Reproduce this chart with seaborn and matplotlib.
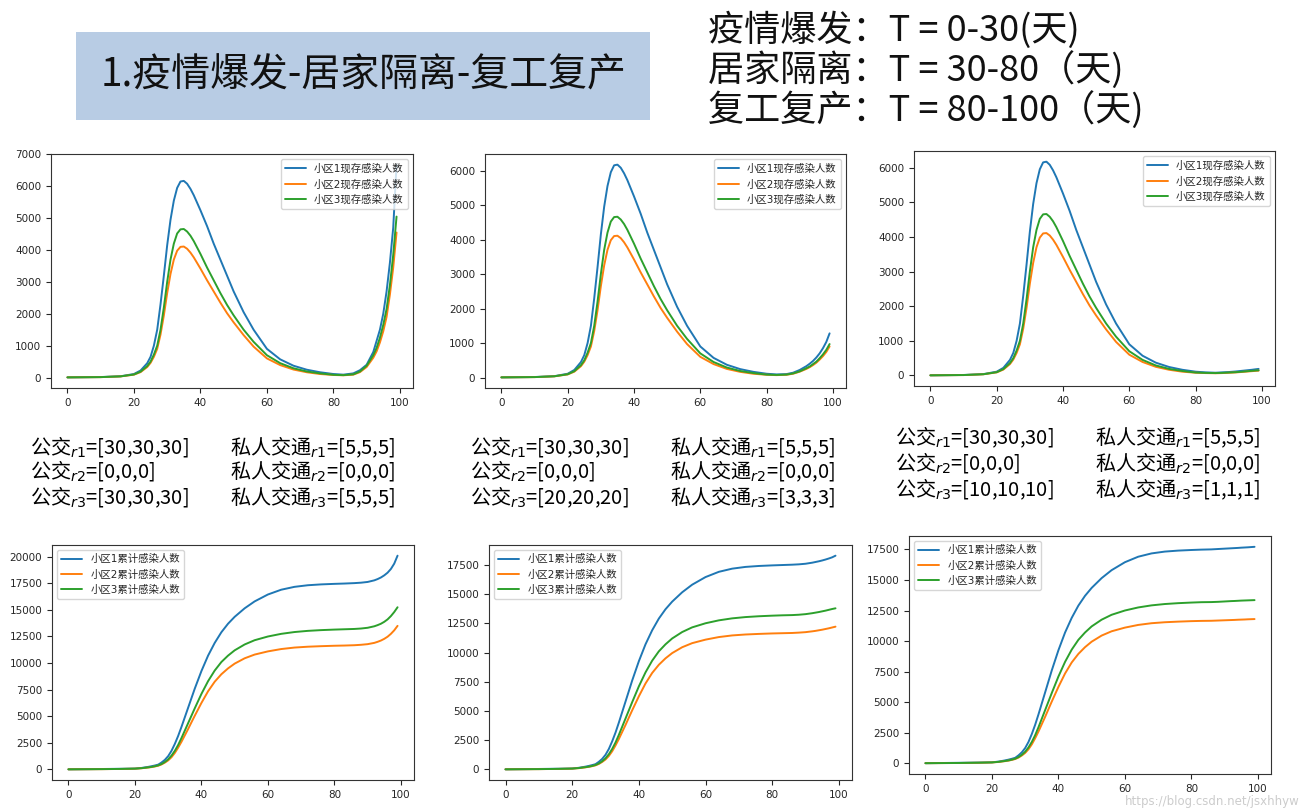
import pandas as pd
import seaborn as sns
import matplotlib.pyplot as plt
from matplotlib.patches import Rectangle
from matplotlib.ticker import MultipleLocator

# days sampled from the curves (shared phase up to day 83, then reopening phase)
days_early = [0, 10, 16, 20, 22, 24, 25, 26, 27, 28, 29, 30, 31, 32, 33, 34, 35, 36, 37, 38,
              40, 42, 44, 46, 48, 50, 53, 56, 60, 64, 68, 72, 76, 80, 83]
days_late = [86, 88, 90, 92, 93, 94, 95, 96, 97, 98, 99]

# current infections, days 0-83 (same for all three scenarios)
cur1_early = [5, 15, 40, 110, 220, 450, 650, 1000, 1500, 2300, 3200, 4150, 4950, 5550, 5950,
              6150, 6170, 6080, 5920, 5720, 5250, 4750, 4200, 3700, 3200, 2700, 2050, 1500,
              900, 570, 370, 245, 165, 110, 90]
cur2_early = [5, 12, 35, 90, 170, 330, 460, 650, 900, 1350, 1950, 2650, 3250, 3700, 3980,
              4100, 4110, 4040, 3920, 3770, 3420, 3050, 2700, 2350, 2020, 1730, 1330, 970,
              600, 390, 250, 165, 110, 80, 70]
cur3_early = [5, 13, 37, 95, 185, 360, 500, 720, 1000, 1500, 2200, 3000, 3700, 4200, 4520,
              4650, 4660, 4580, 4450, 4280, 3880, 3450, 3050, 2650, 2280, 1950, 1500, 1120,
              700, 450, 290, 190, 130, 85, 75]

# current infections after reopening, scenario a / b / c
cur1_late_a = [130, 230, 400, 800, 1150, 1500, 2000, 2700, 3600, 4700, 6680]
cur2_late_a = [90, 170, 330, 620, 820, 1100, 1450, 1900, 2600, 3450, 4550]
cur3_late_a = [100, 190, 370, 700, 930, 1250, 1650, 2150, 2900, 3850, 5050]
cur1_late_b = [100, 140, 220, 330, 400, 480, 580, 700, 850, 1030, 1280]
cur2_late_b = [80, 110, 170, 250, 300, 360, 430, 520, 620, 740, 900]
cur3_late_b = [85, 120, 180, 270, 320, 390, 460, 560, 670, 800, 970]
cur1_late_c = [80, 90, 100, 115, 125, 135, 145, 155, 165, 178, 190]
cur2_late_c = [65, 70, 78, 88, 95, 102, 110, 118, 125, 133, 140]
cur3_late_c = [70, 76, 85, 95, 102, 110, 118, 127, 135, 143, 150]

# cumulative infections, days 0-83
cum1_early = [10, 40, 60, 80, 140, 240, 300, 370, 450, 650, 900, 1250, 1750, 2400, 3150,
              4000, 4900, 5800, 6700, 7600, 9250, 10700, 11900, 12900, 13700, 14350, 15150,
              15800, 16450, 16900, 17170, 17320, 17400, 17450, 17480]
cum2_early = [10, 25, 45, 70, 110, 180, 220, 280, 350, 470, 640, 850, 1150, 1550, 2050,
              2600, 3200, 3800, 4430, 5050, 6250, 7350, 8250, 8950, 9500, 9950, 10450,
              10800, 11100, 11320, 11460, 11540, 11590, 11630, 11650]
cum3_early = [10, 27, 50, 75, 120, 195, 240, 300, 380, 510, 700, 950, 1300, 1750, 2300,
              2950, 3650, 4350, 5050, 5750, 7100, 8300, 9300, 10100, 10700, 11200, 11750,
              12150, 12500, 12750, 12920, 13030, 13100, 13150, 13180]

cum1_late_a = [17520, 17560, 17630, 17780, 17900, 18050, 18250, 18500, 18850, 19350, 20100]
cum2_late_a = [11680, 11720, 11780, 11900, 12000, 12120, 12280, 12480, 12750, 13080, 13500]
cum3_late_a = [13210, 13250, 13320, 13460, 13570, 13700, 13880, 14110, 14420, 14800, 15250]
cum1_late_b = [17510, 17540, 17590, 17680, 17740, 17800, 17870, 17950, 18040, 18140, 18280]
cum2_late_b = [11670, 11700, 11740, 11810, 11850, 11900, 11950, 12010, 12070, 12140, 12210]
cum3_late_b = [13200, 13230, 13280, 13360, 13410, 13460, 13520, 13580, 13650, 13720, 13780]
cum1_late_c = [17500, 17530, 17560, 17590, 17605, 17620, 17640, 17655, 17670, 17690, 17710]
cum2_late_c = [11660, 11680, 11700, 11720, 11730, 11745, 11755, 11765, 11780, 11790, 11800]
cum3_late_c = [13190, 13210, 13240, 13270, 13280, 13295, 13310, 13320, 13330, 13340, 13350]

cur_labels = ['小区1现存感染人数', '小区2现存感染人数', '小区3现存感染人数']
cum_labels = ['小区1累计感染人数', '小区2累计感染人数', '小区3累计感染人数']

# transport parameters per scenario
bus_r1 = '[30,30,30]'
bus_r2 = '[0,0,0]'
bus_r3 = ['[30,30,30]', '[20,20,20]', '[10,10,10]']
car_r1 = '[5,5,5]'
car_r2 = '[0,0,0]'
car_r3 = ['[5,5,5]', '[3,3,3]', '[1,1,1]']

phase_lines = ['疫情爆发：T = 0-30(天)', '居家隔离：T = 30-80（天)', '复工复产：T = 80-100（天)']
title = '1.疫情爆发-居家隔离-复工复产'

days = days_early + days_late

sns.set_style("ticks")
plt.rcParams['font.family'] = ['DejaVu Sans', 'Noto Sans CJK SC']
plt.rcParams['axes.unicode_minus'] = False

W, H = 1308, 808
fig = plt.figure(figsize=(W / 100, H / 100), dpi=100)
colors = sns.color_palette("tab10", 3)


def px_axes(l, t, r, b):
    return fig.add_axes([l / W, 1 - b / H, (r - l) / W, (b - t) / H])


def draw(ax, series, labels, loc, step):
    for vals, lab, c in zip(series, labels, colors):
        sns.lineplot(x=days, y=vals, ax=ax, color=c, label=lab, linewidth=1.4)
    ax.legend(loc=loc, fontsize=7.5)
    ax.xaxis.set_major_locator(MultipleLocator(20))
    ax.yaxis.set_major_locator(MultipleLocator(step))
    ax.tick_params(labelsize=7.5, length=3.5, width=0.8)
    for s in ax.spines.values():
        s.set_linewidth(0.8)
        s.set_color('#333333')


# top row: current infections
ax = px_axes(51, 154, 413, 388)
draw(ax, [cur1_early + cur1_late_a, cur2_early + cur2_late_a, cur3_early + cur3_late_a],
     cur_labels, 'upper right', 1000)
ax = px_axes(485, 154, 846, 388)
draw(ax, [cur1_early + cur1_late_b, cur2_early + cur2_late_b, cur3_early + cur3_late_b],
     cur_labels, 'upper right', 1000)
ax = px_axes(914, 151, 1275, 386)
draw(ax, [cur1_early + cur1_late_c, cur2_early + cur2_late_c, cur3_early + cur3_late_c],
     cur_labels, 'upper right', 1000)

# bottom row: cumulative infections
ax = px_axes(52, 545, 414, 780)
draw(ax, [cum1_early + cum1_late_a, cum2_early + cum2_late_a, cum3_early + cum3_late_a],
     cum_labels, 'upper left', 2500)
ax = px_axes(489, 545, 852, 780)
draw(ax, [cum1_early + cum1_late_b, cum2_early + cum2_late_b, cum3_early + cum3_late_b],
     cum_labels, 'upper left', 2500)
ax = px_axes(909, 536, 1271, 774)
draw(ax, [cum1_early + cum1_late_c, cum2_early + cum2_late_c, cum3_early + cum3_late_c],
     cum_labels, 'upper left', 2500)

# title box
fig.patches.append(Rectangle((76 / W, 1 - 120 / H), 574 / W, 88 / H,
                             transform=fig.transFigure, facecolor='#b8cce4',
                             edgecolor='none', zorder=0))
fig.text(364 / W, 1 - 76 / H, title, ha='center', va='center', fontsize=28,
         family='Noto Sans CJK SC', color='#111111')

for i, line in enumerate(phase_lines):
    fig.text(708 / W, 1 - (30 + 40 * i) / H, line, ha='left', va='center', fontsize=26,
             family='Noto Sans CJK SC', color='#111111')

# parameter text under each top panel
col_x = [(30, 230), (470, 670), (895, 1095)]
row_y = [(447, 471, 497), (447, 471, 497), (437, 463, 489)]
for k in range(3):
    x1, x2 = col_x[k]
    bus = [bus_r1, bus_r2, bus_r3[k]]
    car = [car_r1, car_r2, car_r3[k]]
    for j in range(3):
        y = 1 - row_y[k][j] / H
        fig.text(x1 / W, y, '公交$_{r%d}$=%s' % (j + 1, bus[j]), ha='left', va='center',
                 fontsize=14.5, family='Noto Sans CJK SC', color='black')
        fig.text(x2 / W, y, '私人交通$_{r%d}$=%s' % (j + 1, car[j]), ha='left', va='center',
                 fontsize=14.5, family='Noto Sans CJK SC', color='black')

fig.text(1300 / W, 1 - 801 / H, 'https://blog.csdn.net/jsxhhyw', ha='right', va='center',
         fontsize=8.5, color='#cccccc')

plt.savefig('out.png', dpi=100)
